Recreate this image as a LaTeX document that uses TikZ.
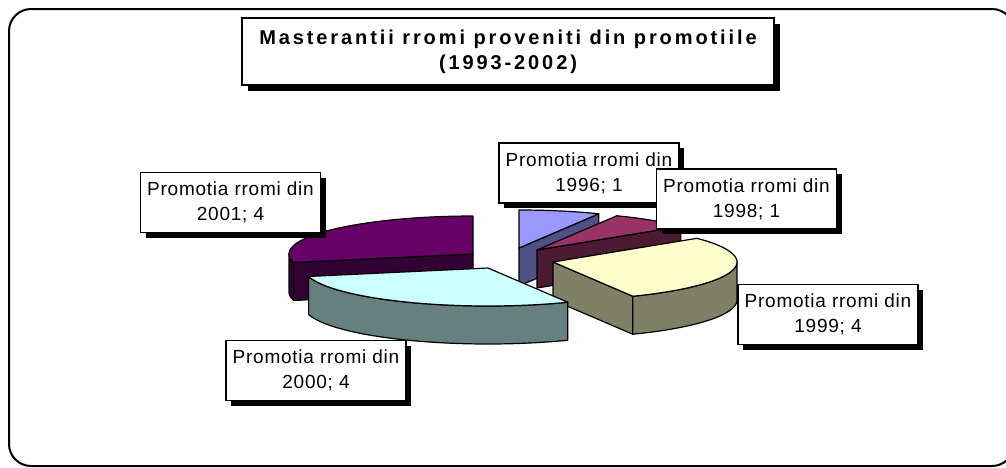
\documentclass[tikz,border=0pt]{standalone}
\usepackage{fontspec}
\setmainfont{Liberation Sans}
\newfontfamily\lblfont[LetterSpace=4]{Liberation Sans}
\newfontfamily\ttlfont[LetterSpace=14.5]{Liberation Sans}
\usepackage{tikz}
\usetikzlibrary{shadows}

\definecolor{top96}{HTML}{9999FF}
\definecolor{side96}{HTML}{4F5085}
\definecolor{top98}{HTML}{993366}
\definecolor{side98}{HTML}{4D1A33}
\definecolor{top99}{HTML}{FFFFCC}
\definecolor{side99}{HTML}{808066}
\definecolor{top00}{HTML}{CCFFFF}
\definecolor{side00}{HTML}{668080}
\definecolor{top01}{HTML}{660066}
\definecolor{side01}{HTML}{330033}

% pie sizes (pixels)
\def\pierx{184}
\def\piery{38}
\def\piedep{38}

% angles are clockwise from 12 o'clock
\newcommand{\slicetop}[5]{%
  \filldraw[slice,fill=#5] (#1,#2) -- plot[domain=#3:#4] ({#1+\pierx*sin(\x)},{#2-\piery*cos(\x)}) -- cycle;}
\newcommand{\slicerim}[5]{%
  \filldraw[slice,fill=#5] plot[domain=#3:#4] ({#1+\pierx*sin(\x)},{#2-\piery*cos(\x)})
    -- plot[domain=#4:#3] ({#1+\pierx*sin(\x)},{#2+\piedep-\piery*cos(\x)}) -- cycle;}
\newcommand{\sliceside}[4]{%
  \filldraw[slice,fill=#4] (#1,#2) -- ({#1+\pierx*sin(#3)},{#2-\piery*cos(#3)}) -- ++(0,\piedep) -- (#1,{#2+\piedep}) -- cycle;}

\tikzset{
  slice/.style={draw=black,line width=1.2pt,line join=round,samples=40},
  lblbox/.style={draw,fill=white,line width=1.3pt,inner sep=0pt,
    minimum width=180pt,minimum height=60pt,align=center,
    font=\lblfont\fontsize{19}{25}\selectfont,
    drop shadow={shadow xshift=5pt,shadow yshift=-5pt,opacity=1,fill=black}},
  ttlbox/.style={draw,fill=white,line width=1.5pt,inner sep=0pt,
    minimum width=532pt,minimum height=67pt,align=center,
    font=\ttlfont\bfseries\fontsize{20}{25}\selectfont,
    drop shadow={shadow xshift=6pt,shadow yshift=-6pt,opacity=1,fill=black}}
}

\begin{document}
\begin{tikzpicture}[x=1pt,y=-1pt]
  \useasboundingbox (0,0) rectangle (1006,467);
  \draw[line width=2pt,rounded corners=22pt] (9,9) rectangle (1014,466);

  \node[ttlbox] (title) at (508,51.5) {Masterantii rromi proveniti din promotiile\\(1993-2002)};

  % slices, back to front
  \sliceside{473}{254}{257.14}{side01}
  \slicerim{473}{254}{257.14}{270}{side01}
  \slicetop{473}{254}{257.14}{360}{top01}

  \sliceside{519}{248}{25.71}{side96}
  \slicetop{519}{248}{0}{25.71}{top96}

  \sliceside{537}{250}{51.43}{side98}
  \slicetop{537}{250}{25.71}{51.43}{top98}

  \sliceside{553}{262}{154.29}{side99}
  \slicerim{553}{262}{90}{154.29}{side99}
  \slicetop{553}{262}{51.43}{154.29}{top99}

  \slicerim{488}{268}{154.29}{257.14}{side00}
  \slicetop{488}{268}{154.29}{257.14}{top00}

  \begin{scope}[every node/.style={lblbox}]
    \node (p96) at (589,173) {Promotia rromi din\\1996; 1};
    \node (p98) at (746.5,199) {Promotia rromi din\\1998; 1};
    \node (p01) at (230.5,202.5) {Promotia rromi din\\2001; 4};
    \node (p99) at (828,314.5) {Promotia rromi din\\1999; 4};
    \node (p00) at (316,370.5) {Promotia rromi din\\2000; 4};
  \end{scope}
\end{tikzpicture}
\end{document}
